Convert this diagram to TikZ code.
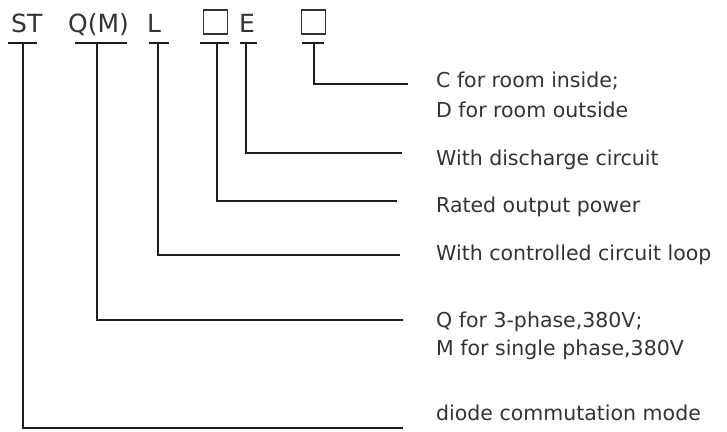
\documentclass[tikz,border=0pt]{standalone}
\usepackage{fontspec}
\setmainfont{DejaVu Sans}
\definecolor{ink}{HTML}{1E1E1E}
\definecolor{txt}{HTML}{333333}
\begin{document}
\begin{tikzpicture}[x=1pt,y=-1pt,
  conn/.style={draw=ink,line width=1.9pt},
  bar/.style={draw=ink,line width=1.9pt},
  code/.style={inner sep=0pt,anchor=base west,text=txt,font=\fontsize{25}{30}\selectfont},
  slot/.style={draw=txt,line width=1.2pt,minimum width=24pt,minimum height=24pt,inner sep=0pt},
  desc/.style={inner sep=0pt,anchor=base west,text=txt,font=\fontsize{20.5}{28}\selectfont}]
\useasboundingbox (0,0) rectangle (727,431);
% code letters
\node[code] (st) at (11,32) {ST};
\node[code] (qm) at (68,32) {Q(M)};
\node[code] (l) at (147,32) {L};
\node[slot] (b1) at (215.5,22) {};
\node[code] (e) at (239,32) {E};
\node[slot] (b2) at (313.5,22) {};
% tee bars
\coordinate (stA) at (8,43);   \coordinate (stB) at (37,43);
\coordinate (qmA) at (75,43);  \coordinate (qmB) at (127,43);
\coordinate (lA) at (149,43);  \coordinate (lB) at (169,43);
\coordinate (b1A) at (200,43); \coordinate (b1B) at (229,43);
\coordinate (eA) at (240,43);  \coordinate (eB) at (257,43);
\coordinate (b2A) at (302,43); \coordinate (b2B) at (324,43);
\foreach \n in {st,qm,l,b1,e,b2} \draw[bar] (\n A) -- (\n B);
% tee stems
\coordinate (stT) at (23,43);
\coordinate (qmT) at (97,43);
\coordinate (lT) at (158,43);
\coordinate (b1T) at (217,43);
\coordinate (eT) at (246,43);
\coordinate (b2T) at (314,43);
% line ends
\coordinate (b2E) at (408,84);
\coordinate (eE) at (402,153);
\coordinate (b1E) at (397,201);
\coordinate (lE) at (400,255);
\coordinate (qmE) at (403,320);
\coordinate (stE) at (403,428);
\foreach \n in {st,qm,l,b1,e,b2} \draw[conn] (\n T) |- (\n E);
% descriptions
\node[desc] (dC) at (436,87) {C for room inside;};
\node[desc] (dD) at (436,117) {D for room outside};
\node[desc] (dE) at (436,165) {With discharge circuit};
\node[desc] (dR) at (436,212) {Rated output power};
\node[desc] (dL) at (436,260) {With controlled circuit loop};
\node[desc] (dQ) at (436,327) {Q for 3-phase,380V;};
\node[desc] (dM) at (436,355) {M for single phase,380V};
\node[desc] (dS) at (436,420) {diode commutation mode};
\end{tikzpicture}
\end{document}
